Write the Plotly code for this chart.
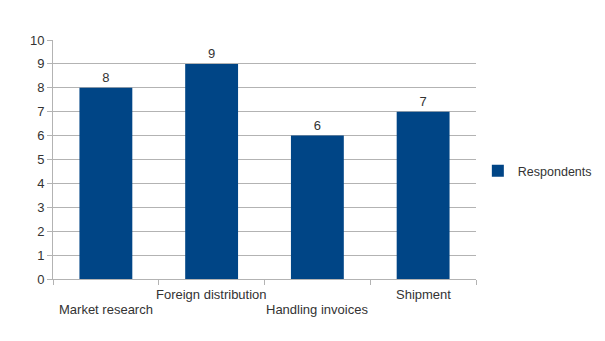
import plotly.graph_objects as go

categories = ["Market research", "Foreign distribution", "Handling invoices", "Shipment"]
respondents = [8, 9, 6, 7]
series_name = "Respondents"

bar_color = "#004586"
grid_color = "#b3b3b3"
text_color = "#333333"
font_family = "Liberation Sans, Arial, sans-serif"

positions = list(range(len(categories)))

fig = go.Figure()
fig.add_trace(go.Bar(
    x=positions,
    y=respondents,
    name=series_name,
    marker=dict(color=bar_color, line=dict(width=0)),
    text=[str(v) for v in respondents],
    textposition="outside",
    textfont=dict(size=13, color=text_color, family=font_family),
    cliponaxis=False,
    width=0.5,
    showlegend=True,
))

# Category labels, staggered on two rows under the axis
for i, name in enumerate(categories):
    fig.add_annotation(
        x=i, xref="x", y=0, yref="paper",
        text=name, showarrow=False,
        yanchor="top", xanchor="center",
        yshift=-(6 if i % 2 == 1 else 21),
        font=dict(size=13, color=text_color, family=font_family),
    )

fig.update_layout(
    width=605, height=341,
    margin=dict(l=53, r=129, t=40, b=62),
    paper_bgcolor="white",
    plot_bgcolor="white",
    font=dict(family=font_family, color=text_color, size=13),
    bargap=0.5,
    legend=dict(
        xref="container", yref="container",
        x=0.808, xanchor="left", y=0.498, yanchor="middle",
        indentation=-11,
        font=dict(size=12.5, color=text_color),
        itemwidth=30,
        bgcolor="rgba(0,0,0,0)",
    ),
    xaxis=dict(
        range=[-0.5, len(categories) - 0.5],
        tickmode="array",
        tickvals=[p - 0.5 for p in positions] + [len(categories) - 0.5],
        ticktext=[""] * (len(categories) + 1),
        ticks="outside", ticklen=5, tickcolor=grid_color, tickwidth=1,
        showgrid=False, zeroline=False,
        showline=True, linecolor=grid_color, linewidth=1,
        fixedrange=True,
    ),
    yaxis=dict(
        range=[0, 10], dtick=1, tick0=0,
        ticks="outside", ticklen=5, tickcolor=grid_color, tickwidth=1,
        showgrid=True, gridcolor=grid_color, gridwidth=1,
        zeroline=False,
        showline=True, linecolor=grid_color, linewidth=1,
        tickfont=dict(size=13, color=text_color),
        fixedrange=True,
    ),
)

fig.write_html("out.html")
